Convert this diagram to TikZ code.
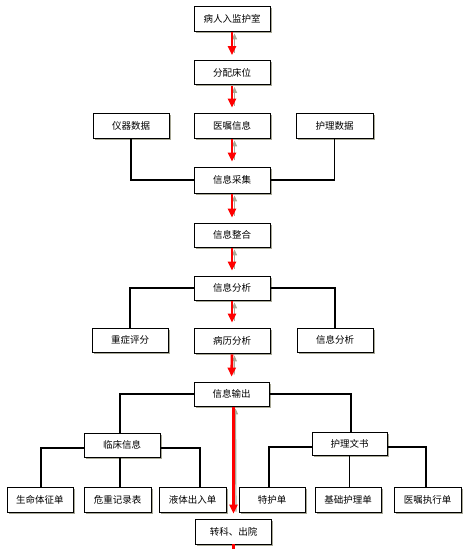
\documentclass[tikz,border=0pt]{standalone}
\usepackage{fontspec}
\newfontfamily\cjk{Noto Sans CJK SC}
\usetikzlibrary{arrows.meta,shadows,calc}
\definecolor{shd}{RGB}{168,168,150}
\definecolor{redarr}{RGB}{255,0,0}
\tikzset{
  box/.style={draw=black, line width=0.8pt, fill=white, minimum height=25pt,
    minimum width=76pt, inner sep=0pt,
    font=\cjk\fontsize{9.5}{11}\selectfont,
    drop shadow={shadow xshift=1.6pt, shadow yshift=-1.6pt, fill=shd, opacity=1}},
  conn/.style={draw=black, line width=1.4pt},
  connshd/.style={draw=shd, line width=1.4pt},
  flow/.style={draw=redarr, line width=2.6pt, -{Triangle[width=8pt,length=9pt]}, shorten <=1pt, shorten >=5pt},
  flowshd/.style={draw=shd, line width=1.2pt, {Triangle[width=5pt,length=6pt]}-, shorten <=2pt, shorten >=7pt}
}
\begin{document}
\begin{tikzpicture}[x=1pt,y=-1pt]
\useasboundingbox (0,0) rectangle (470,549);
% boxes
\node[box] (ruhu) at (232,18.5) {病人入监护室};
\node[box, minimum height=24pt] (fenpei) at (232,72.5) {分配床位};
\node[box] (yiqi) at (131,125.5) {仪器数据};
\node[box] (yizhu) at (232,125.5) {医嘱信息};
\node[box, minimum width=77pt] (huli) at (334.5,125.5) {护理数据};
\node[box, minimum height=26pt] (caiji) at (232,180) {信息采集};
\node[box, minimum height=24pt] (zhenghe) at (232,235) {信息整合};
\node[box, minimum height=24pt] (fenxi) at (232,288) {信息分析};
\node[box, minimum height=24pt] (zhongzheng) at (130,340) {重症评分};
\node[box] (bingli) at (232,340.5) {病历分析};
\node[box, minimum height=24pt] (fenxib) at (335,340) {信息分析};
\node[box, minimum height=24pt, minimum width=75pt] (shuchu) at (231.5,394) {信息输出};
\node[box, minimum height=24pt] (linchuang) at (122,445) {临床信息};
\node[box, minimum height=23pt, minimum width=75pt] (hulidoc) at (349.5,443.5) {护理文书};
\node[box, minimum width=66pt] (shengming) at (40,499.5) {生命体征单};
\node[box, minimum width=67pt] (weizhong) at (117.5,499.5) {危重记录表};
\node[box, minimum width=67pt] (yeti) at (192.5,499.5) {液体出入单};
\node[box, minimum width=66pt] (tehu) at (272,499.5) {特护单};
\node[box, minimum width=66pt] (jichu) at (348,499.5) {基础护理单};
\node[box, minimum width=67pt] (yizhuzx) at (427.5,499.5) {医嘱执行单};
\node[box] (zhuanke) at (233.5,531.5) {转科、出院};
\coordinate (bottom) at (233.5,560);
% connectors (shadow then line)
\foreach \s in {1} {
\begin{scope}[shift={(1.4,1.4)}]
\draw[connshd] (yiqi.south) |- (caiji.west);
\draw[connshd] (huli.south) |- (caiji.east);
\draw[connshd] (fenxi.west) -| (zhongzheng.north);
\draw[connshd] (fenxi.east) -| (fenxib.north);
\draw[connshd] (shuchu.west) -| ($(linchuang.north)+(-2,0)$);
\draw[connshd] (shuchu.east) -| ($(hulidoc.north)+(1.5,0)$);
\draw[connshd] ($(linchuang.west)+(0,3)$) -| ($(shengming.north)+(1,0)$);
\draw[connshd] ($(linchuang.east)+(0,3)$) -| ($(yeti.north)+(7.5,0)$);
\draw[connshd] ($(linchuang.south)+(-2,0)$) -- ($(weizhong.north)+(2.5,0)$);
\draw[connshd] ($(hulidoc.west)+(0,3.5)$) -| ($(tehu.north)+(-3,0)$);
\draw[connshd] (hulidoc.south) -- ($(jichu.north)+(1.5,0)$);
\draw[connshd] ($(hulidoc.east)+(0,3.5)$) -| ($(yizhuzx.north)+(-1.5,0)$);
\end{scope}
}
\draw[conn] (yiqi.south) |- (caiji.west);
\draw[conn] (huli.south) |- (caiji.east);
\draw[conn] (fenxi.west) -| (zhongzheng.north);
\draw[conn] (fenxi.east) -| (fenxib.north);
\draw[conn] (shuchu.west) -| ($(linchuang.north)+(-2,0)$);
\draw[conn] (shuchu.east) -| ($(hulidoc.north)+(1.5,0)$);
\draw[conn] ($(linchuang.west)+(0,3)$) -| ($(shengming.north)+(1,0)$);
\draw[conn] ($(linchuang.east)+(0,3)$) -| ($(yeti.north)+(7.5,0)$);
\draw[conn] ($(linchuang.south)+(-2,0)$) -- ($(weizhong.north)+(2.5,0)$);
\draw[conn] ($(hulidoc.west)+(0,3.5)$) -| ($(tehu.north)+(-3,0)$);
\draw[conn] (hulidoc.south) -- ($(jichu.north)+(1.5,0)$);
\draw[conn] ($(hulidoc.east)+(0,3.5)$) -| ($(yizhuzx.north)+(-1.5,0)$);
% red flow arrows with gray shadow
\foreach \a/\b in {ruhu/fenpei, fenpei/yizhu, yizhu/caiji, caiji/zhenghe, zhenghe/fenxi, fenxi/bingli, bingli/shuchu} {
  \draw[flowshd] ($(\a.south)+(2.5,0)$) -- ($(\b.north)+(2.5,0)$);
  \draw[flow] (\a.south) -- (\b.north);
}
\draw[flowshd] ($(shuchu.south)+(4,0)$) -- ($(zhuanke.north)+(2.5,0)$);
\draw[flow] ($(shuchu.south)+(2,0)$) -- (zhuanke.north);
\draw[draw=redarr, line width=2.6pt] (zhuanke.south) -- (bottom);
\end{tikzpicture}
\end{document}
